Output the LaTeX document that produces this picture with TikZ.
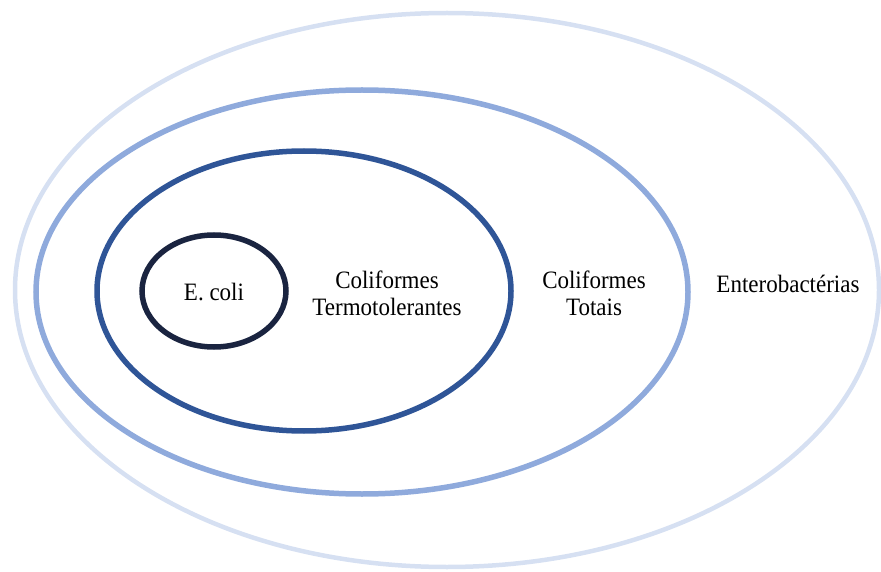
\documentclass[tikz,border=0pt]{standalone}
\usepackage{fontspec}
\setmainfont{Liberation Serif}
\definecolor{cEnt}{HTML}{D6E0F2}
\definecolor{cTot}{HTML}{8FAADC}
\definecolor{cTer}{HTML}{2F5597}
\definecolor{cEco}{HTML}{1A2440}
\begin{document}
\begin{tikzpicture}[x=1pt,y=-1pt,
  ring/.style={line width=#1},
  lbl/.style={font=\fontsize{25}{27}\selectfont, align=center, inner sep=0pt, xscale=0.92}]
\useasboundingbox (0,0) rectangle (881,572);
\begin{scope}
\clip (0,0) rectangle (881,572);
\draw[cEnt, ring=4.5] (447,290) ellipse [x radius=432, y radius=277];
\end{scope}
\draw[cTot, ring=5.5] (362,292) ellipse [x radius=326, y radius=202];
\draw[cTer, ring=5.5] (304,291) ellipse [x radius=207, y radius=140];
\draw[cEco, ring=5.5] (214,291) ellipse [x radius=72, y radius=56];
\node[lbl] (ecoli) at (214,292) {E. coli};
\node[lbl] (term) at (387,293) {Coliformes\\Termotolerantes};
\node[lbl] (tot) at (594,293) {Coliformes\\Totais};
\node[lbl] (ent) at (788,284) {Enterobactérias};
\end{tikzpicture}
\end{document}
